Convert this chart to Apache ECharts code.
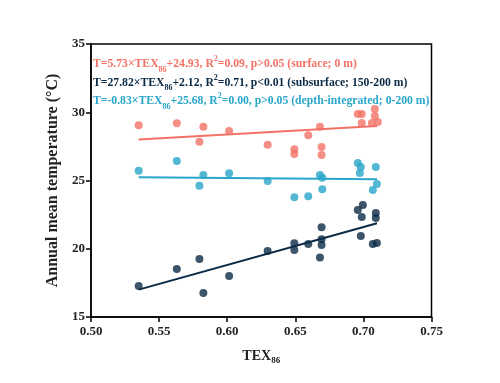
<!DOCTYPE html>
<html><head><meta charset="utf-8">
<script src="https://cdn.jsdelivr.net/npm/echarts@6/dist/echarts.min.js"></script>
<style>html,body{margin:0;padding:0;background:#fff}#c{width:500px;height:383px}</style>
</head><body><div id="c"></div>
<script>
// Surface (0 m)
const surfX = [0.535,0.563,0.5825,0.5796,0.6014,0.6297,0.6493,0.6493,0.6595,0.6681,0.6693,0.6693,0.6959,0.6988,0.6988,0.7084,0.7084,0.7062,0.7106];
const surfY = [29.04,29.19,28.94,27.84,28.63,27.62,27.29,26.94,28.31,28.94,27.45,26.87,29.87,29.87,29.21,30.24,29.73,29.21,29.29];
// Subsurface (150-200 m)
const subX = [0.535,0.563,0.5796,0.5825,0.6014,0.6297,0.6493,0.6493,0.6595,0.6693,0.6693,0.6693,0.6681,0.6996,0.6959,0.6988,0.7091,0.7091,0.6981,0.7069,0.7099];
const subY = [17.27,18.52,19.25,16.76,18.0,19.84,20.40,19.91,20.35,21.57,20.69,20.27,19.35,23.21,22.84,22.33,22.62,22.25,20.94,20.35,20.42];
// Depth-integrated (0-200 m)
const intX = [0.535,0.563,0.5825,0.5796,0.6014,0.6297,0.6493,0.6595,0.6681,0.6698,0.6698,0.6959,0.6981,0.6974,0.7091,0.7099,0.7069];
const intY = [25.72,26.43,25.40,24.62,25.53,24.96,23.77,23.84,25.40,25.21,24.36,26.28,25.99,25.55,25.99,24.74,24.30];
// Regression equations (slope, intercept) and fit range
const slopes = [5.73, 27.82, -0.83];
const intercepts = [24.93, 2.12, 25.68];
const fitRange = [0.535, 0.71];
const xTicks = [0.50,0.55,0.60,0.65,0.70,0.75];
const yTicks = [15,20,25,30,35];

const colors = ['#F37266', '#0B2A46', '#29A6CA'];
const ff = 'Liberation Serif';
function zip(a,b){return a.map((v,i)=>[v,b[i]]);}
function fit(k){return fitRange.map(x=>[x, slopes[k]*x+intercepts[k]]);}

const rich = {};
['a','b','c'].forEach((k,i)=>{
  rich[k] = {color:colors[i], fontFamily:ff, fontWeight:'bold', fontSize:11.7, lineHeight:18.5};
  rich[k+'s'] = {color:colors[i], fontFamily:ff, fontWeight:'bold', fontSize:8, lineHeight:18.5, verticalAlign:'bottom'};
  rich[k+'p'] = {color:colors[i], fontFamily:ff, fontWeight:'bold', fontSize:8, lineHeight:15, verticalAlign:'top'};
});
const legendText =
  '{a|T=5.73×TEX}{as|86}{a|+24.93, R}{ap|2}{a|=0.09, p>0.05 (surface; 0 m)}\n' +
  '{b|T=27.82×TEX}{bs|86}{b|+2.12, R}{bp|2}{b|=0.71, p<0.01 (subsurface; 150-200 m)}\n' +
  '{c|T=-0.83×TEX}{cs|86}{c|+25.68, R}{cp|2}{c|=0.00, p>0.05 (depth-integrated; 0-200 m)}';

const chart = echarts.init(document.getElementById('c'), null, {renderer:'canvas'});
const axisCommon = {
  axisLine:{show:true, lineStyle:{color:'#000', width:1.5}},
  axisTick:{show:true, inside:false, length:5, lineStyle:{color:'#000', width:1.5}},
  splitLine:{show:false},
  axisLabel:{color:'#222', fontFamily:ff, fontWeight:'bold', fontSize:13}
};
chart.setOption({
  animation:false,
  grid:{left:91, right:68.5, top:44, bottom:66, show:true, borderColor:'#000', borderWidth:1.5, backgroundColor:'transparent'},
  title:{text:legendText, left:93, top:55, padding:0, textStyle:{rich:rich, fontSize:11.7, lineHeight:18.5}},
  xAxis:Object.assign({type:'value', min:xTicks[0], max:xTicks[xTicks.length-1], interval:0.05,
    name:'{m|TEX}{s|86}', nameLocation:'middle', nameGap:30,
    nameTextStyle:{rich:{m:{fontFamily:ff,fontWeight:'bold',fontSize:14,color:'#222',lineHeight:18},
                         s:{fontFamily:ff,fontWeight:'bold',fontSize:9,color:'#222',lineHeight:18,verticalAlign:'bottom'}}}},
    axisCommon, {axisLabel:Object.assign({}, axisCommon.axisLabel, {formatter:v=>v.toFixed(2), margin:8})}),
  yAxis:Object.assign({type:'value', min:yTicks[0], max:yTicks[yTicks.length-1], interval:5,
    name:'Annual mean temperature (°C)', nameLocation:'middle', nameGap:26, nameRotate:90,
    nameTextStyle:{fontFamily:ff, fontWeight:'bold', fontSize:16, color:'#222'}},
    axisCommon, {axisLabel:Object.assign({}, axisCommon.axisLabel, {margin:6})}),
  series:[
    {type:'scatter', data:zip(surfX,surfY), symbolSize:8, itemStyle:{color:colors[0]}, z:2},
    {type:'scatter', data:zip(subX,subY), symbolSize:8, itemStyle:{color:colors[1]}, z:2},
    {type:'scatter', data:zip(intX,intY), symbolSize:8, itemStyle:{color:colors[2]}, z:2},
    {type:'line', data:fit(0), showSymbol:false, symbol:'none', lineStyle:{color:colors[0], width:2}, z:3},
    {type:'line', data:fit(1), showSymbol:false, symbol:'none', lineStyle:{color:colors[1], width:2}, z:3},
    {type:'line', data:fit(2), showSymbol:false, symbol:'none', lineStyle:{color:colors[2], width:2}, z:3}
  ]
});
</script></body></html>
